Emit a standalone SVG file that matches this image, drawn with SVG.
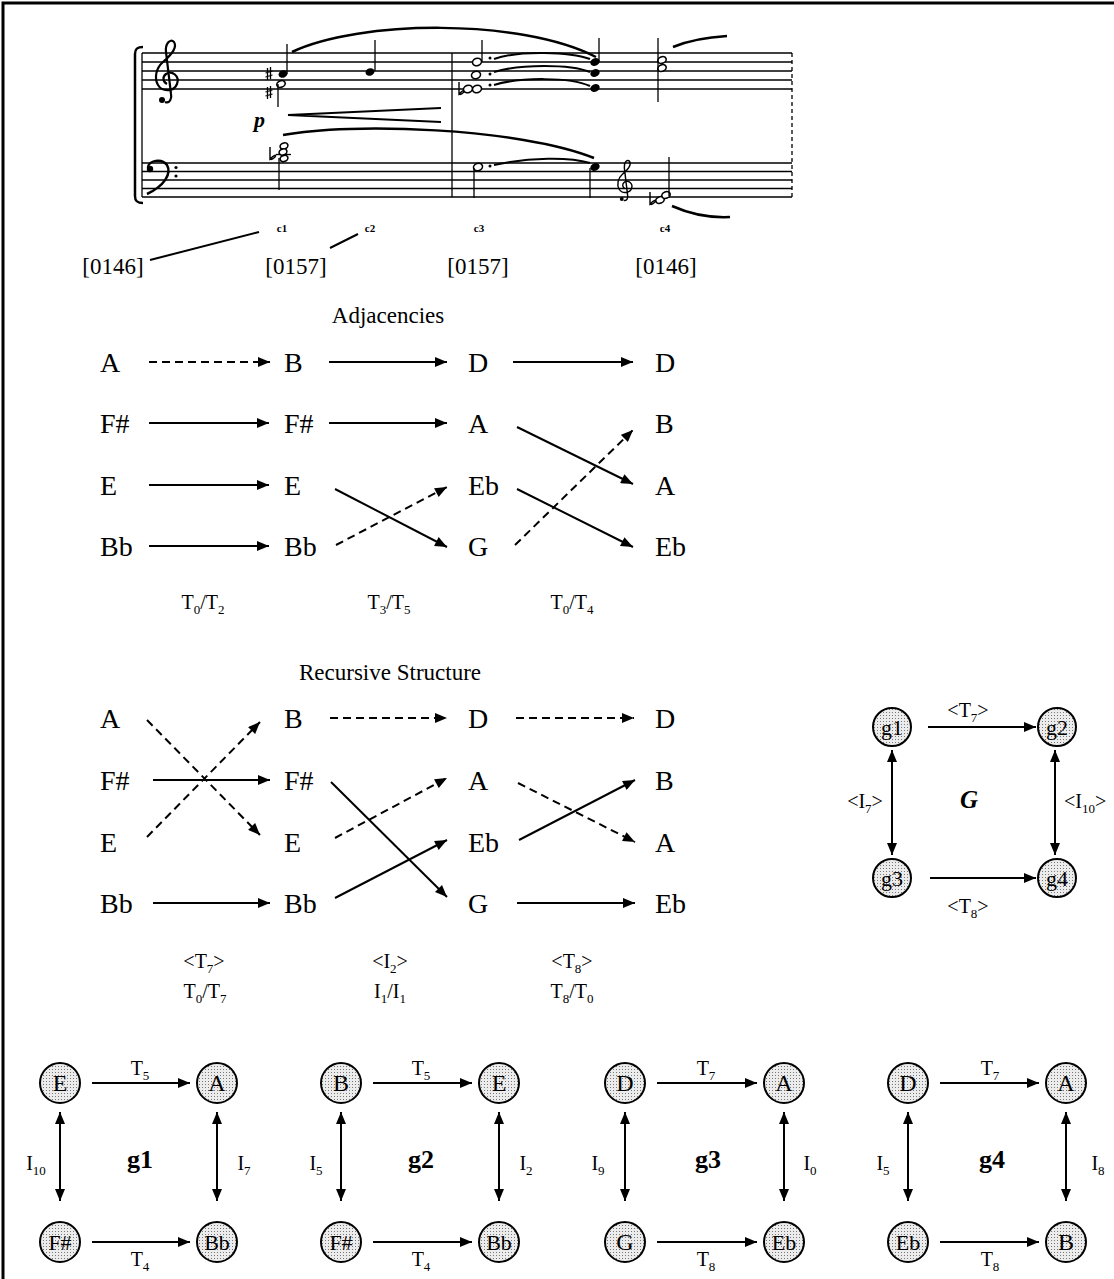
<svg xmlns="http://www.w3.org/2000/svg" xmlns:xlink="http://www.w3.org/1999/xlink" width="1114" height="1279" viewBox="0 0 1114 1279">
<style>
text{font-family:"Liberation Serif","Times New Roman",serif;fill:#000}
.note{font-size:28px}
.title{font-size:23px}
.lbl{font-size:20px}
.sub{font-size:13px}
.set{font-size:23px}
.cl{font-size:11px;font-weight:bold}
.cn{font-size:24px}
.cs{font-size:22px}
.gname{font-size:26px;font-weight:bold}
.ar{stroke:#000;stroke-width:2;fill:none;marker-end:url(#ah)}
.da{stroke-dasharray:8 5}
.dbl{marker-start:url(#ahs)}
.nd{fill:url(#dots);stroke:#000;stroke-width:2}
.stf{stroke:#000;stroke-width:1.3}
.thk{stroke:#000;stroke-width:2.5;fill:none}
.nh{fill:#000}
.oh{fill:#fff;stroke:#000;stroke-width:1.6}
</style>
<defs>
<marker id="ah" viewBox="0 0 12 10" refX="12" refY="5" markerWidth="13" markerHeight="10" markerUnits="userSpaceOnUse" orient="auto"><path d="M0,0 L12,5 L0,10 z"/></marker>
<marker id="ahs" viewBox="0 0 12 10" refX="12" refY="5" markerWidth="13" markerHeight="10" markerUnits="userSpaceOnUse" orient="auto-start-reverse"><path d="M0,0 L12,5 L0,10 z"/></marker>
<pattern id="dots" width="3" height="3" patternUnits="userSpaceOnUse"><rect width="3" height="3" fill="#ececec"/><rect x="1" y="1" width="1" height="1" fill="#777"/></pattern>
<g id="gclef"><path d="M -2 22 C 3 24 5 18 4 14 L -1 -28 C -2 -36 3 -42 7 -38 C 11 -32 3 -24 -4 -18 C -11 -12 -13 -2 -9 5 C -5 12 7 12 10 4 C 13 -4 5 -10 -1 -6 C -5 -3 -4 2 0 4" fill="none" stroke="#000" stroke-width="2.2"/><circle cx="-5" cy="20" r="3"/></g>
<path id="sharp" d="M -1.5 -6 L -1.5 6 M 1.5 -7 L 1.5 5 M -3.5 -1 L 3.5 -3 M -3.5 3 L 3.5 1" stroke="#000" stroke-width="1.3" fill="none"/>
<path id="flat" d="M -2 -9 L -2 3 C 2 -1 5 -2 3 1 C 1 3 -1 4 -2 3" stroke="#000" stroke-width="1.4" fill="none"/>
</defs>

<!-- frame -->
<path d="M 3 1279 L 3 3 L 1114 3" fill="none" stroke="#000" stroke-width="3"/>

<!-- music excerpt -->
<g id="score">
  <path d="M 143 47 C 137 47 135 49 135 54 L 135 196 C 135 201 137 203 143 203" class="thk" stroke-width="3"/>
  <line x1="142" y1="53" x2="142" y2="197" class="stf"/>
  <g class="stf">
    <line x1="142" y1="53" x2="792" y2="53"/><line x1="142" y1="62" x2="792" y2="62"/><line x1="142" y1="71" x2="792" y2="71"/><line x1="142" y1="80" x2="792" y2="80"/><line x1="142" y1="89" x2="792" y2="89"/>
    <line x1="142" y1="163" x2="792" y2="163"/><line x1="142" y1="171.5" x2="792" y2="171.5"/><line x1="142" y1="180" x2="792" y2="180"/><line x1="142" y1="188.5" x2="792" y2="188.5"/><line x1="142" y1="197" x2="792" y2="197"/>
  </g>
  <line x1="452" y1="53" x2="452" y2="197" class="stf"/>
  <line x1="792" y1="53" x2="792" y2="200" class="stf" stroke-dasharray="4 3"/>
  <use href="#gclef" transform="translate(167,80)"/>
  <circle cx="150" cy="169" r="3.2"/>
  <path d="M 148 168 C 148 160 162 158 167 165 C 172 174 164 186 147 194" class="thk"/>
  <circle cx="176" cy="167.5" r="1.6"/><circle cx="176" cy="176" r="1.6"/>
  <!-- m1 treble -->
  <use href="#sharp" transform="translate(269,74)"/>
  <use href="#sharp" transform="translate(269,93)"/>
  <ellipse cx="283" cy="74" rx="4.6" ry="3.6" transform="rotate(-20 283 74)" class="nh"/>
  <ellipse cx="281" cy="84" rx="4.3" ry="3.3" transform="rotate(-20 281 84)" class="oh"/>
  <line x1="287" y1="44" x2="287" y2="74" class="stf"/>
  <line x1="278" y1="84" x2="278" y2="107" class="stf"/>
  <ellipse cx="370" cy="72" rx="4.6" ry="3.6" transform="rotate(-20 370 72)" class="nh"/>
  <line x1="375" y1="40" x2="375" y2="71" class="stf"/>
  <path d="M 292 52 C 360 20 520 18 596 57" class="thk"/>
  <text x="254" y="127" font-size="22" font-style="italic" font-weight="bold">p</text>
  <path d="M 441 108 L 288 115 L 441 122" fill="none" stroke="#000" stroke-width="2"/>
  <!-- m1 bass -->
  <path d="M 283 135 C 350 122 520 128 594 158" class="thk"/>
  <line x1="276" y1="154.5" x2="291" y2="154.5" class="stf"/>
  <use href="#flat" transform="translate(272,156)"/>
  <ellipse cx="284" cy="146" rx="4" ry="3" transform="rotate(-20 284 146)" class="oh"/>
  <ellipse cx="283" cy="152" rx="4" ry="3" transform="rotate(-20 283 152)" class="oh"/>
  <ellipse cx="284" cy="158.5" rx="4" ry="3" transform="rotate(-20 284 158.5)" class="oh"/>
  <line x1="279" y1="158" x2="279" y2="190" class="stf"/>
  <!-- m2 treble -->
  <use href="#flat" transform="translate(461,91)"/>
  <ellipse cx="477" cy="62" rx="4.6" ry="3.6" transform="rotate(-20 477 62)" class="oh"/>
  <ellipse cx="476" cy="75" rx="4.6" ry="3.6" transform="rotate(-20 476 75)" class="oh"/>
  <ellipse cx="468" cy="89" rx="4.6" ry="3.6" transform="rotate(-20 468 89)" class="oh"/>
  <ellipse cx="477" cy="89" rx="4.6" ry="3.6" transform="rotate(-20 477 89)" class="oh"/>
  <line x1="482" y1="40" x2="482" y2="62" class="stf"/>
  <circle cx="490" cy="58" r="1.5"/><circle cx="490" cy="74" r="1.5"/><circle cx="490" cy="85" r="1.5"/>
  <path d="M 494 59 C 520 50 570 52 590 59" fill="none" stroke="#000" stroke-width="2"/>
  <path d="M 494 72 C 520 64 570 64 590 72" fill="none" stroke="#000" stroke-width="2"/>
  <path d="M 494 85 C 520 77 570 77 590 86" fill="none" stroke="#000" stroke-width="2"/>
  <ellipse cx="595" cy="62" rx="4.8" ry="3.8" transform="rotate(-20 595 62)" class="nh"/>
  <ellipse cx="595" cy="73" rx="4.8" ry="3.8" transform="rotate(-20 595 73)" class="nh"/>
  <ellipse cx="595" cy="88" rx="4.8" ry="3.8" transform="rotate(-20 595 88)" class="nh"/>
  <line x1="599" y1="38" x2="599" y2="62" class="stf"/>
  <!-- m2 bass -->
  <ellipse cx="478" cy="167" rx="4.6" ry="3.6" transform="rotate(-20 478 167)" class="oh"/>
  <line x1="474" y1="168" x2="474" y2="198" class="stf"/>
  <circle cx="490" cy="166" r="1.5"/>
  <path d="M 494 165 C 530 157 570 157 590 163" fill="none" stroke="#000" stroke-width="2"/>
  <ellipse cx="595" cy="167" rx="4.8" ry="3.8" transform="rotate(-20 595 167)" class="nh"/>
  <line x1="590" y1="168" x2="590" y2="198" class="stf"/>
  <!-- m3 -->
  <use href="#gclef" transform="translate(625,186) scale(0.65)"/>
  <use href="#flat" transform="translate(652,201)"/>
  <ellipse cx="660" cy="200" rx="4.3" ry="3.3" transform="rotate(-20 660 200)" class="oh"/>
  <ellipse cx="666" cy="195" rx="4.3" ry="3.3" transform="rotate(-20 666 195)" class="oh"/>
  <line x1="669" y1="157" x2="669" y2="196" class="stf"/>
  <path d="M 672 206 C 690 214 710 218 730 217" class="thk"/>
  <ellipse cx="662" cy="60" rx="4.3" ry="3.3" transform="rotate(-20 662 60)" class="oh"/>
  <ellipse cx="662" cy="68" rx="4.3" ry="3.3" transform="rotate(-20 662 68)" class="oh"/>
  <line x1="658" y1="38" x2="658" y2="102" class="stf"/>
  <path d="M 673 47 C 690 40 710 37 727 36" class="thk"/>
  <!-- labels -->
  <text x="282" y="232" class="cl" text-anchor="middle">c1</text>
  <text x="370" y="232" class="cl" text-anchor="middle">c2</text>
  <text x="479" y="232" class="cl" text-anchor="middle">c3</text>
  <text x="665" y="232" class="cl" text-anchor="middle">c4</text>
  <text x="113" y="274" class="set" text-anchor="middle">[0146]</text>
  <text x="296" y="274" class="set" text-anchor="middle">[0157]</text>
  <text x="478" y="274" class="set" text-anchor="middle">[0157]</text>
  <text x="666" y="274" class="set" text-anchor="middle">[0146]</text>
  <line x1="150" y1="260" x2="259" y2="232" stroke="#000" stroke-width="2"/>
  <line x1="330" y1="248" x2="358" y2="234" stroke="#000" stroke-width="2"/>
</g>

<!-- Adjacencies -->
<text x="388" y="323" class="title" text-anchor="middle">Adjacencies</text>
<g id="adj-nodes" class="note">
  <g id="adj-A1"><text x="100" y="372">A</text></g>
  <g id="adj-Fs1"><text x="100" y="433">F#</text></g>
  <g id="adj-E1"><text x="100" y="495">E</text></g>
  <g id="adj-Bb1"><text x="100" y="556">Bb</text></g>
  <g id="adj-B2"><text x="284" y="372">B</text></g>
  <g id="adj-Fs2"><text x="284" y="433">F#</text></g>
  <g id="adj-E2"><text x="284" y="495">E</text></g>
  <g id="adj-Bb2"><text x="284" y="556">Bb</text></g>
  <g id="adj-D3"><text x="468" y="372">D</text></g>
  <g id="adj-A3"><text x="468" y="433">A</text></g>
  <g id="adj-Eb3"><text x="468" y="495">Eb</text></g>
  <g id="adj-G3"><text x="468" y="556">G</text></g>
  <g id="adj-D4"><text x="655" y="372">D</text></g>
  <g id="adj-B4"><text x="655" y="433">B</text></g>
  <g id="adj-A4"><text x="655" y="495">A</text></g>
  <g id="adj-Eb4"><text x="655" y="556">Eb</text></g>
</g>
<g id="adj-connectors">
  <line x1="149" y1="362" x2="270" y2="362" class="ar da"/>
  <line x1="329" y1="362" x2="447" y2="362" class="ar"/>
  <line x1="513" y1="362" x2="633" y2="362" class="ar"/>
  <line x1="149" y1="423" x2="269" y2="423" class="ar"/>
  <line x1="329" y1="423" x2="447" y2="423" class="ar"/>
  <line x1="517" y1="427" x2="633" y2="484" class="ar"/>
  <line x1="149" y1="485" x2="269" y2="485" class="ar"/>
  <line x1="335" y1="489" x2="447" y2="547" class="ar"/>
  <line x1="517" y1="489" x2="633" y2="547" class="ar"/>
  <line x1="149" y1="546" x2="269" y2="546" class="ar"/>
  <line x1="336" y1="545" x2="447" y2="487" class="ar da"/>
  <line x1="515" y1="545" x2="633" y2="430" class="ar da"/>
</g>
<g id="adj-labels" class="lbl" text-anchor="middle">
  <text x="203" y="609">T<tspan class="sub" dy="5">0</tspan><tspan dy="-5">/T</tspan><tspan class="sub" dy="5">2</tspan></text>
  <text x="389" y="609">T<tspan class="sub" dy="5">3</tspan><tspan dy="-5">/T</tspan><tspan class="sub" dy="5">5</tspan></text>
  <text x="572" y="609">T<tspan class="sub" dy="5">0</tspan><tspan dy="-5">/T</tspan><tspan class="sub" dy="5">4</tspan></text>
</g>

<!-- Recursive Structure -->
<text x="390" y="680" class="title" text-anchor="middle">Recursive Structure</text>
<g id="rec-nodes" class="note">
  <g id="rec-A1"><text x="100" y="728">A</text></g>
  <g id="rec-Fs1"><text x="100" y="790">F#</text></g>
  <g id="rec-E1"><text x="100" y="852">E</text></g>
  <g id="rec-Bb1"><text x="100" y="913">Bb</text></g>
  <g id="rec-B2"><text x="284" y="728">B</text></g>
  <g id="rec-Fs2"><text x="284" y="790">F#</text></g>
  <g id="rec-E2"><text x="284" y="852">E</text></g>
  <g id="rec-Bb2"><text x="284" y="913">Bb</text></g>
  <g id="rec-D3"><text x="468" y="728">D</text></g>
  <g id="rec-A3"><text x="468" y="790">A</text></g>
  <g id="rec-Eb3"><text x="468" y="852">Eb</text></g>
  <g id="rec-G3"><text x="468" y="913">G</text></g>
  <g id="rec-D4"><text x="655" y="728">D</text></g>
  <g id="rec-B4"><text x="655" y="790">B</text></g>
  <g id="rec-A4"><text x="655" y="852">A</text></g>
  <g id="rec-Eb4"><text x="655" y="913">Eb</text></g>
</g>
<g id="rec-connectors">
  <line x1="147" y1="720" x2="260" y2="835" class="ar da"/>
  <line x1="147" y1="837" x2="260" y2="722" class="ar da"/>
  <line x1="153" y1="780" x2="270" y2="780" class="ar"/>
  <line x1="153" y1="903" x2="270" y2="903" class="ar"/>
  <line x1="330" y1="718" x2="447" y2="718" class="ar da"/>
  <line x1="516" y1="718" x2="634" y2="718" class="ar da"/>
  <line x1="331" y1="782" x2="447" y2="897" class="ar"/>
  <line x1="335" y1="838" x2="447" y2="778" class="ar da"/>
  <line x1="335" y1="898" x2="447" y2="840" class="ar"/>
  <line x1="518" y1="783" x2="635" y2="842" class="ar da"/>
  <line x1="519" y1="840" x2="635" y2="780" class="ar"/>
  <line x1="517" y1="903" x2="635" y2="903" class="ar"/>
</g>
<g id="rec-labels" class="lbl" text-anchor="middle">
  <text x="204" y="968">&lt;T<tspan class="sub" dy="5">7</tspan><tspan dy="-5">&gt;</tspan></text>
  <text x="205" y="998">T<tspan class="sub" dy="5">0</tspan><tspan dy="-5">/T</tspan><tspan class="sub" dy="5">7</tspan></text>
  <text x="390" y="968">&lt;I<tspan class="sub" dy="5">2</tspan><tspan dy="-5">&gt;</tspan></text>
  <text x="390" y="998">I<tspan class="sub" dy="5">1</tspan><tspan dy="-5">/I</tspan><tspan class="sub" dy="5">1</tspan></text>
  <text x="572" y="968">&lt;T<tspan class="sub" dy="5">8</tspan><tspan dy="-5">&gt;</tspan></text>
  <text x="572" y="998">T<tspan class="sub" dy="5">8</tspan><tspan dy="-5">/T</tspan><tspan class="sub" dy="5">0</tspan></text>
</g>

<!-- G graph -->
<g id="G-graph">
  <g id="G-g1"><circle cx="892" cy="727" r="19" class="nd"/><text x="892" y="735" class="cs" text-anchor="middle">g1</text></g>
  <g id="G-g2"><circle cx="1057" cy="727" r="19" class="nd"/><text x="1057" y="735" class="cs" text-anchor="middle">g2</text></g>
  <g id="G-g3"><circle cx="892" cy="878" r="19" class="nd"/><text x="892" y="886" class="cs" text-anchor="middle">g3</text></g>
  <g id="G-g4"><circle cx="1057" cy="878" r="19" class="nd"/><text x="1057" y="886" class="cs" text-anchor="middle">g4</text></g>
  <g id="G-connectors">
    <line x1="928" y1="727" x2="1036" y2="727" class="ar"/>
    <line x1="930" y1="878" x2="1036" y2="878" class="ar"/>
    <line x1="892" y1="750" x2="892" y2="855" class="ar dbl"/>
    <line x1="1055" y1="750" x2="1055" y2="855" class="ar dbl"/>
  </g>
  <g class="lbl">
    <text x="968" y="717" text-anchor="middle">&lt;T<tspan class="sub" dy="5">7</tspan><tspan dy="-5">&gt;</tspan></text>
    <text x="968" y="913" text-anchor="middle">&lt;T<tspan class="sub" dy="5">8</tspan><tspan dy="-5">&gt;</tspan></text>
    <text x="865" y="808" text-anchor="middle">&lt;I<tspan class="sub" dy="5">7</tspan><tspan dy="-5">&gt;</tspan></text>
    <text x="1064" y="808">&lt;I<tspan class="sub" dy="5">10</tspan><tspan dy="-5">&gt;</tspan></text>
  </g>
  <text x="969" y="808" font-size="25" font-weight="bold" font-style="italic" text-anchor="middle">G</text>
</g>

<!-- bottom graphs -->
<g id="graph-g1">
  <g id="g1-E"><circle cx="60" cy="1083" r="20" class="nd"/><text x="60" y="1091" class="cn" text-anchor="middle">E</text></g>
  <g id="g1-A"><circle cx="217" cy="1083" r="20" class="nd"/><text x="217" y="1091" class="cn" text-anchor="middle">A</text></g>
  <g id="g1-Fs"><circle cx="60" cy="1242" r="20" class="nd"/><text x="60" y="1250" class="cs" text-anchor="middle">F#</text></g>
  <g id="g1-Bb"><circle cx="217" cy="1242" r="20" class="nd"/><text x="217" y="1250" class="cs" text-anchor="middle">Bb</text></g>
  <g id="g1-connectors">
    <line x1="92" y1="1083" x2="190" y2="1083" class="ar"/>
    <line x1="92" y1="1242" x2="190" y2="1242" class="ar"/>
    <line x1="60" y1="1112" x2="60" y2="1201" class="ar dbl"/>
    <line x1="217" y1="1112" x2="217" y2="1201" class="ar dbl"/>
  </g>
  <g class="lbl" text-anchor="middle">
    <text x="140" y="1075">T<tspan class="sub" dy="5">5</tspan></text>
    <text x="140" y="1266">T<tspan class="sub" dy="5">4</tspan></text>
    <text x="36" y="1170">I<tspan class="sub" dy="5">10</tspan></text>
    <text x="244" y="1170">I<tspan class="sub" dy="5">7</tspan></text>
  </g>
  <text x="140" y="1168" class="gname" text-anchor="middle">g1</text>
</g>
<g id="graph-g2">
  <g id="g2-B"><circle cx="341" cy="1083" r="20" class="nd"/><text x="341" y="1091" class="cn" text-anchor="middle">B</text></g>
  <g id="g2-E"><circle cx="499" cy="1083" r="20" class="nd"/><text x="499" y="1091" class="cn" text-anchor="middle">E</text></g>
  <g id="g2-Fs"><circle cx="341" cy="1242" r="20" class="nd"/><text x="341" y="1250" class="cs" text-anchor="middle">F#</text></g>
  <g id="g2-Bb"><circle cx="499" cy="1242" r="20" class="nd"/><text x="499" y="1250" class="cs" text-anchor="middle">Bb</text></g>
  <g id="g2-connectors">
    <line x1="373" y1="1083" x2="472" y2="1083" class="ar"/>
    <line x1="373" y1="1242" x2="472" y2="1242" class="ar"/>
    <line x1="341" y1="1112" x2="341" y2="1201" class="ar dbl"/>
    <line x1="499" y1="1112" x2="499" y2="1201" class="ar dbl"/>
  </g>
  <g class="lbl" text-anchor="middle">
    <text x="421" y="1075">T<tspan class="sub" dy="5">5</tspan></text>
    <text x="421" y="1266">T<tspan class="sub" dy="5">4</tspan></text>
    <text x="316" y="1170">I<tspan class="sub" dy="5">5</tspan></text>
    <text x="526" y="1170">I<tspan class="sub" dy="5">2</tspan></text>
  </g>
  <text x="421" y="1168" class="gname" text-anchor="middle">g2</text>
</g>
<g id="graph-g3">
  <g id="g3-D"><circle cx="625" cy="1083" r="20" class="nd"/><text x="625" y="1091" class="cn" text-anchor="middle">D</text></g>
  <g id="g3-A"><circle cx="784" cy="1083" r="20" class="nd"/><text x="784" y="1091" class="cn" text-anchor="middle">A</text></g>
  <g id="g3-G"><circle cx="625" cy="1242" r="20" class="nd"/><text x="625" y="1250" class="cn" text-anchor="middle">G</text></g>
  <g id="g3-Eb"><circle cx="784" cy="1242" r="20" class="nd"/><text x="784" y="1250" class="cs" text-anchor="middle">Eb</text></g>
  <g id="g3-connectors">
    <line x1="657" y1="1083" x2="757" y2="1083" class="ar"/>
    <line x1="657" y1="1242" x2="757" y2="1242" class="ar"/>
    <line x1="625" y1="1112" x2="625" y2="1201" class="ar dbl"/>
    <line x1="784" y1="1112" x2="784" y2="1201" class="ar dbl"/>
  </g>
  <g class="lbl" text-anchor="middle">
    <text x="706" y="1075">T<tspan class="sub" dy="5">7</tspan></text>
    <text x="706" y="1266">T<tspan class="sub" dy="5">8</tspan></text>
    <text x="598" y="1170">I<tspan class="sub" dy="5">9</tspan></text>
    <text x="810" y="1170">I<tspan class="sub" dy="5">0</tspan></text>
  </g>
  <text x="708" y="1168" class="gname" text-anchor="middle">g3</text>
</g>
<g id="graph-g4">
  <g id="g4-D"><circle cx="908" cy="1083" r="20" class="nd"/><text x="908" y="1091" class="cn" text-anchor="middle">D</text></g>
  <g id="g4-A"><circle cx="1066" cy="1083" r="20" class="nd"/><text x="1066" y="1091" class="cn" text-anchor="middle">A</text></g>
  <g id="g4-Eb"><circle cx="908" cy="1242" r="20" class="nd"/><text x="908" y="1250" class="cs" text-anchor="middle">Eb</text></g>
  <g id="g4-B"><circle cx="1066" cy="1242" r="20" class="nd"/><text x="1066" y="1250" class="cn" text-anchor="middle">B</text></g>
  <g id="g4-connectors">
    <line x1="940" y1="1083" x2="1039" y2="1083" class="ar"/>
    <line x1="940" y1="1242" x2="1039" y2="1242" class="ar"/>
    <line x1="908" y1="1112" x2="908" y2="1201" class="ar dbl"/>
    <line x1="1066" y1="1112" x2="1066" y2="1201" class="ar dbl"/>
  </g>
  <g class="lbl" text-anchor="middle">
    <text x="990" y="1075">T<tspan class="sub" dy="5">7</tspan></text>
    <text x="990" y="1266">T<tspan class="sub" dy="5">8</tspan></text>
    <text x="883" y="1170">I<tspan class="sub" dy="5">5</tspan></text>
    <text x="1098" y="1170">I<tspan class="sub" dy="5">8</tspan></text>
  </g>
  <text x="992" y="1168" class="gname" text-anchor="middle">g4</text>
</g>
</svg>
